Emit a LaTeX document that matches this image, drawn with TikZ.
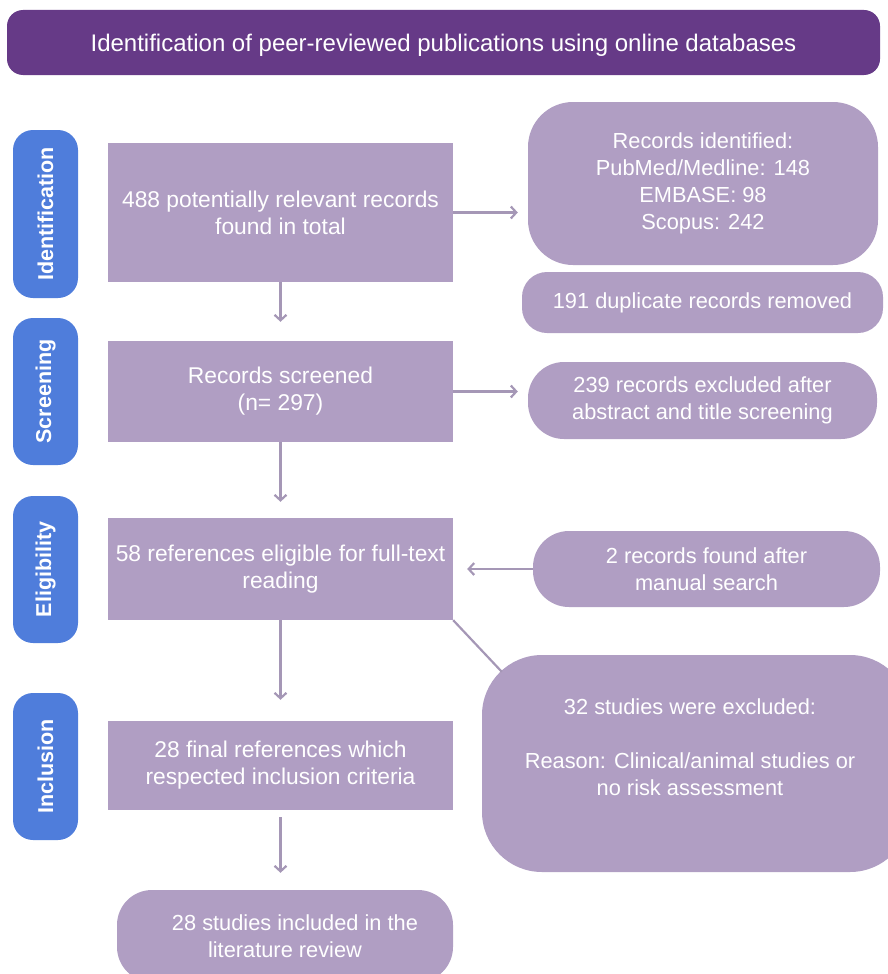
\documentclass[tikz,border=0pt]{standalone}
\usepackage{fontspec}
\setmainfont{Liberation Sans}
\usetikzlibrary{arrows.meta}
\definecolor{bannerc}{HTML}{663A87}
\definecolor{boxc}{HTML}{B09EC3}
\definecolor{sidec}{HTML}{4F7DDB}
\definecolor{arrowc}{HTML}{A597B6}
\begin{document}
\begin{tikzpicture}[x=1pt,y=-1pt,
  bannerbox/.style={fill=bannerc, rounded corners=16pt, inner sep=0pt},
  bannertxt/.style={text=white, inner sep=0pt, font=\fontsize{24}{28}\selectfont},
  sidebox/.style={fill=sidec, rounded corners=20pt, text=white, inner sep=0pt, rotate=90,
    minimum height=65pt, font=\bfseries\fontsize{21.5}{24}\selectfont},
  mainbox/.style={fill=boxc, text=white, inner sep=0pt, align=center,
    minimum width=345pt, font=\fontsize{22.8}{27}\selectfont},
  rbox/.style={fill=boxc, text=white, inner sep=0pt, align=center,
    font=\fontsize{21.8}{27}\selectfont},
  txt/.style={text=white, inner sep=0pt, align=center, font=\fontsize{21.8}{27}\selectfont},
  arr/.style={draw=arrowc, line width=2.2pt, -{Straight Barb[length=5.5pt,width=12pt,line width=2.2pt]}},
  plain/.style={draw=arrowc, line width=2.2pt}
]
\useasboundingbox (0,0) rectangle (888,974);

\node[bannerbox, minimum width=873pt, minimum height=65pt] (ban) at (443.5,42.5) {};
\node[bannertxt] (bant) at (443.5,45.5)
  {Identification of peer-reviewed publications using online databases};

\node[sidebox, minimum width=168pt] (s1) at (45.5,214) {Identification};
\node[sidebox, minimum width=147pt] (s2) at (45.5,391.5) {Screening};
\node[sidebox, minimum width=147pt] (s3) at (45.5,569.5) {Eligibility};
\node[sidebox, minimum width=147pt] (s4) at (45.5,766.5) {Inclusion};

\node[mainbox, minimum height=139pt] (b1) at (280.5,212.5)
  {488 potentially relevant records\\found in total};
\node[mainbox, minimum height=101pt] (b2) at (280.5,391.5)
  {Records screened\\(n= 297)};
\node[mainbox, minimum height=102pt] (b3) at (280.5,569)
  {58 references eligible for full-text\\reading};
\node[mainbox, minimum height=89pt] (b4) at (280.5,765.5)
  {28 final references which\\respected inclusion criteria};
\node[rbox, rounded corners=35pt, minimum width=336pt, minimum height=92pt] (b5) at (285,936)
  {\hspace*{20pt}28 studies included in the\\literature review};

\node[rbox, rounded corners=45pt, minimum width=350pt, minimum height=163pt] (r1) at (703,183.5)
  {Records identified:\\PubMed/Medline: 148\\EMBASE: 98\\Scopus: 242};
\node[rbox, rounded corners=25pt, minimum width=361pt, minimum height=61pt] (r2) at (702.5,302.5)
  {191 duplicate records removed};
\node[rbox, rounded corners=36pt, minimum width=349pt, minimum height=77pt] (r3) at (702.5,400.5)
  {239 records excluded after\\abstract and title screening};
\node[rbox, rounded corners=36pt, minimum width=347pt, minimum height=76pt] (r4) at (706.5,569)
  {2 records found after\\manual search};
\node[rbox, rounded corners=60pt, minimum width=428pt, minimum height=217pt] (r5) at (696,763.5) {};
\node[txt] (r5t) at (690,747.5)
  {32 studies were excluded:\\[27pt]Reason: Clinical/animal studies or\\no risk assessment};

\draw[arr] (b1.east) -- ([xshift=-10pt]b1.east -| r1.west);
\draw[arr] (b1.south) -- ([yshift=19pt]b2.north);
\draw[arr] (b2.east) -- ([xshift=-10pt]b2.east -| r3.west);
\draw[arr] (b2.south) -- ([yshift=16pt]b3.north);
\draw[arr] (r4.west) -- ([xshift=14pt]r4.west -| b3.east);
\draw[arr] (b3.south) -- ([yshift=21pt]b4.north);
\draw[arr] ([yshift=-7pt]b4.south) -- ([yshift=17pt]b4.south |- b5.north);
\coordinate (dg) at ([xshift=20pt,yshift=-17pt]r5.north west);
\draw[plain] (b3.south east) -- (dg);
\end{tikzpicture}
\end{document}
